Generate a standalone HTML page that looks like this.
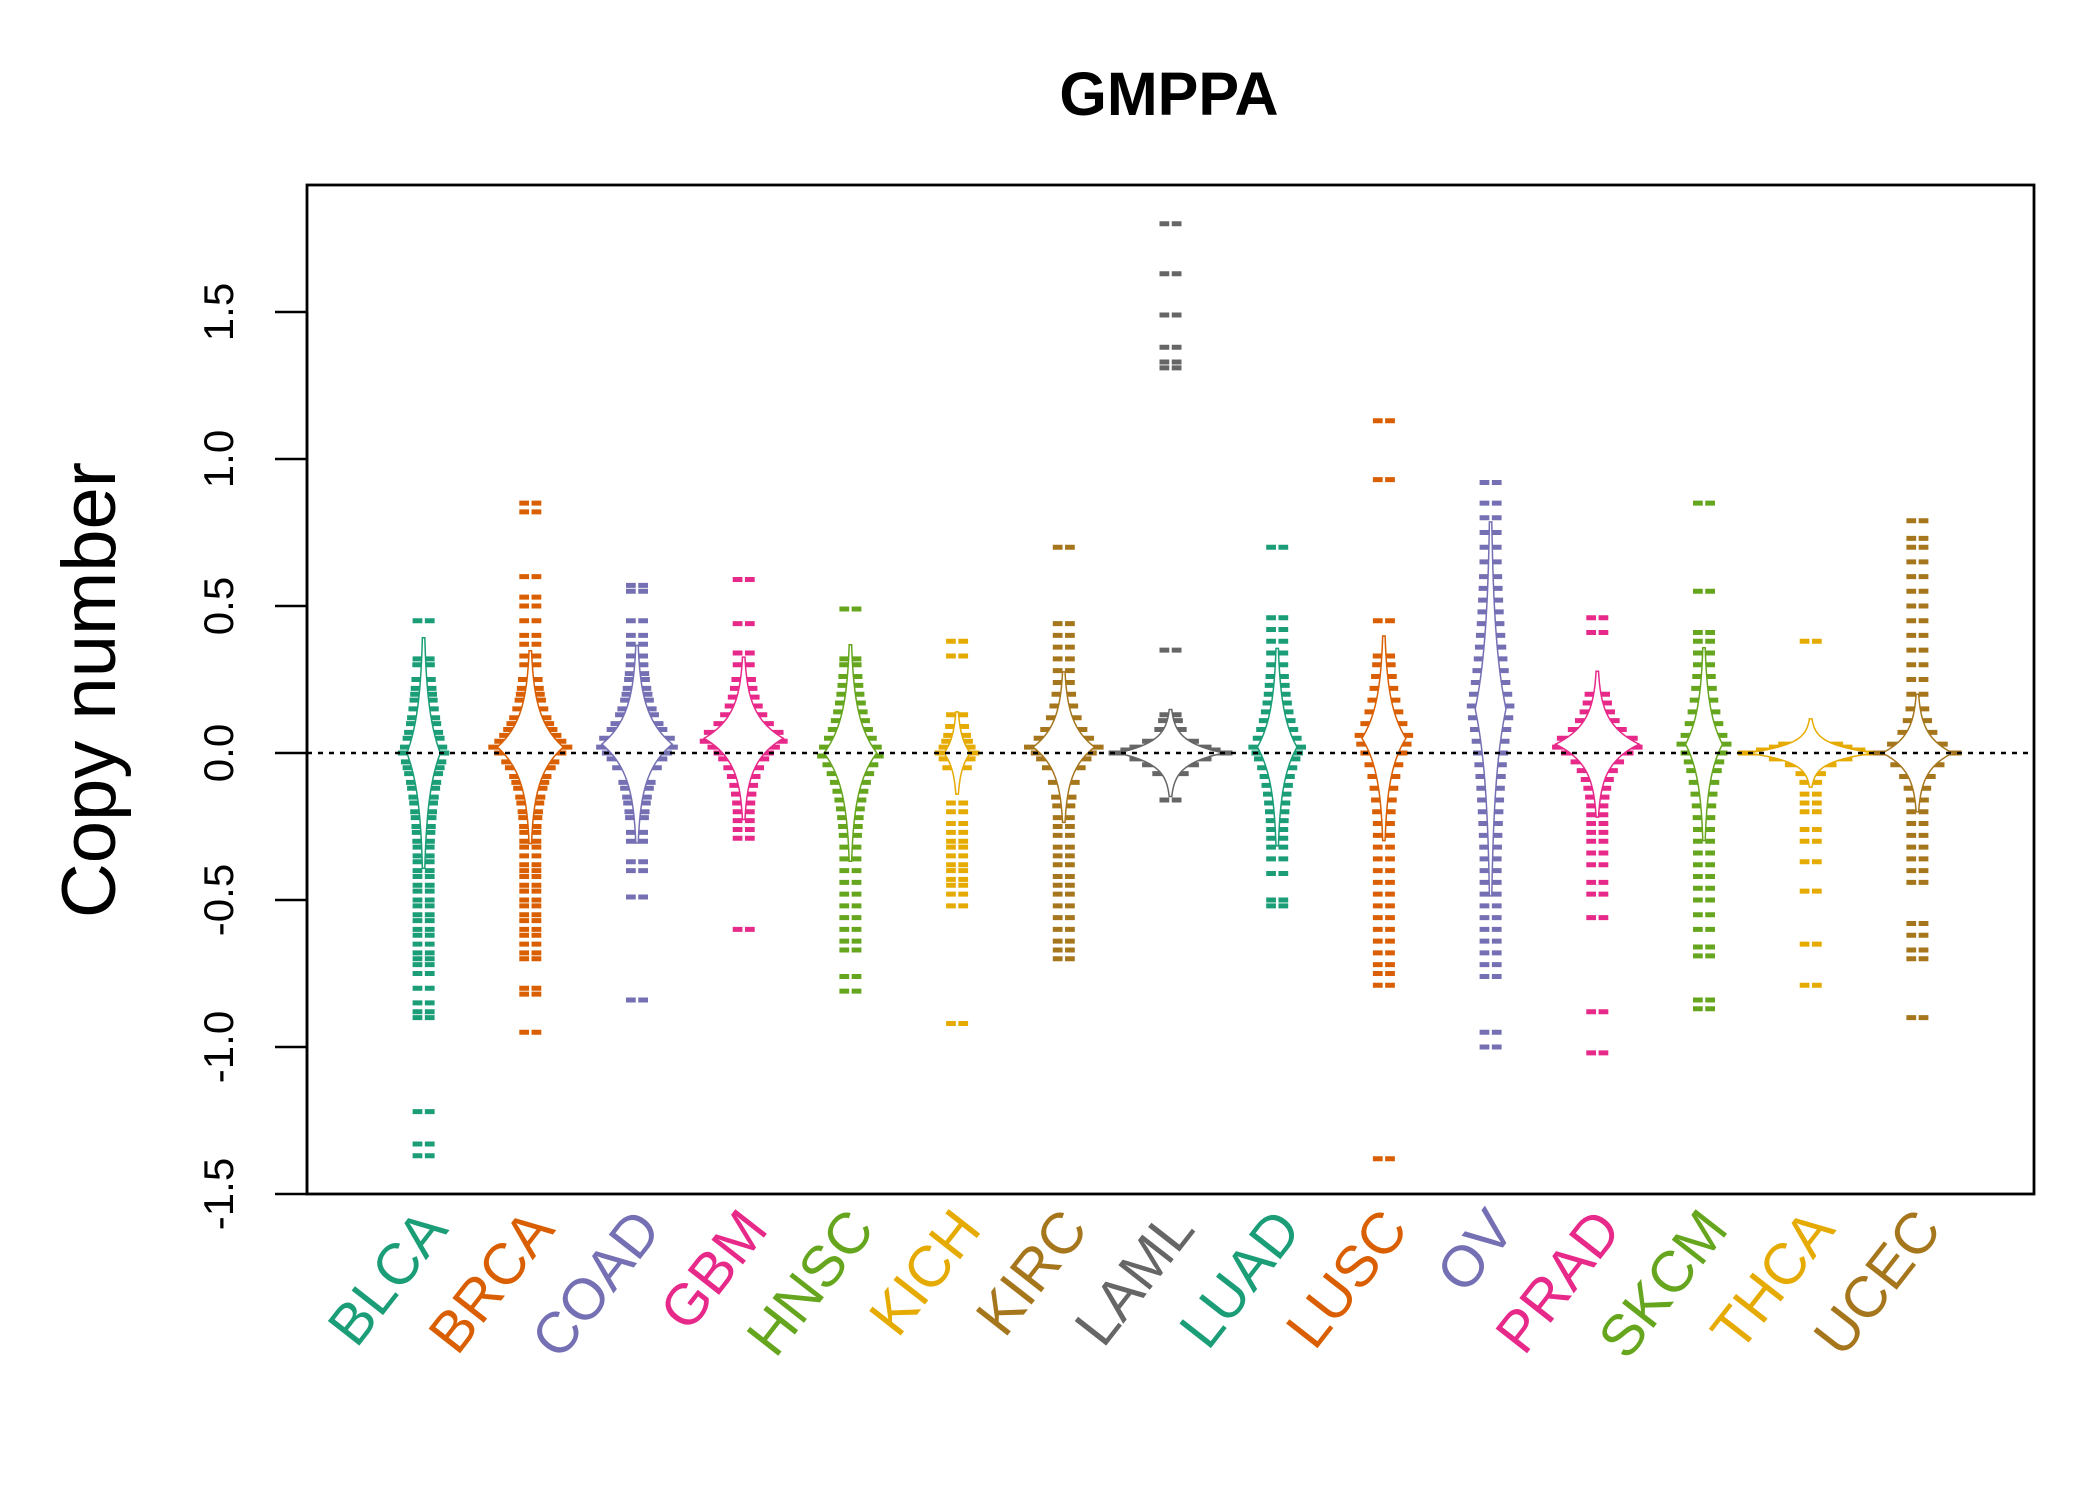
<!DOCTYPE html>
<html><head><meta charset="utf-8"><style>
html,body{margin:0;padding:0;background:#fff;}
svg{display:block;font-family:"Liberation Sans",sans-serif;}
</style></head><body>
<svg id="chart" width="2100" height="1500" viewBox="0 0 2100 1500" xmlns="http://www.w3.org/2000/svg">
<text x="1169" y="115" font-size="61" font-weight="bold" text-anchor="middle">GMPPA</text>
<text transform="translate(115,690) rotate(-90)" font-size="76" text-anchor="middle">Copy number</text>
<g id="beans"></g>
<line x1="307" y1="753" x2="2034" y2="753" stroke="#000" stroke-width="2.5" stroke-dasharray="5,6"/>
<rect x="307" y="185" width="1727" height="1009" fill="none" stroke="#000" stroke-width="2.8"/>
<g id="yaxis"></g>
<g id="xlabels"></g>
</svg>
<script>
const categories = ["BLCA","BRCA","COAD","GBM","HNSC","KICH","KIRC","LAML","LUAD","LUSC","OV","PRAD","SKCM","THCA","UCEC"];
const colors = ["#1B9E77","#D95F02","#7570B3","#E7298A","#66A61E","#E6AB02","#A6761D","#666666","#1B9E77","#D95F02","#7570B3","#E7298A","#66A61E","#E6AB02","#A6761D"];
const yTicks = [-1.5,-1.0,-0.5,0.0,0.5,1.0,1.5];
const yTickLabels = ["-1.5","-1.0","-0.5","0.0","0.5","1.0","1.5"];
const peakRel = [0.38,0.75,0.8,0.9,0.6,0.3,0.7,1.2,0.45,0.5,0.35,0.95,0.42,1.45,0.8];
const beanSpread = [0.15,0.1,0.1,0.08,0.12,0.06,0.08,0.04,0.12,0.12,0.25,0.07,0.12,0.03,0.06];
const beanCenter = [0.0,0.02,0.03,0.05,0.0,0.0,0.02,0.0,0.02,0.05,0.15,0.03,0.03,0.0,0.0];
const vBLCA = [-1.37,-1.33,-1.22,-0.9,-0.88,-0.85,-0.8,-0.75,-0.72,-0.7,-0.68,-0.65,-0.62,-0.6,-0.57,-0.55,-0.52,-0.5,-0.47,-0.45,-0.42,-0.4,-0.37,-0.35,-0.32,-0.3,-0.27,-0.25,-0.22,-0.2,-0.17,-0.15,-0.12,-0.1,-0.07,-0.05,-0.03,0,0.02,0.05,0.07,0.1,0.12,0.15,0.18,0.2,0.22,0.25,0.3,0.32,0.45];
const vBRCA = [-0.95,-0.82,-0.8,-0.7,-0.68,-0.65,-0.62,-0.6,-0.57,-0.55,-0.52,-0.5,-0.47,-0.45,-0.42,-0.4,-0.38,-0.35,-0.32,-0.3,-0.27,-0.25,-0.22,-0.2,-0.17,-0.15,-0.12,-0.1,-0.08,-0.05,-0.03,0,0.02,0.04,0.06,0.08,0.1,0.12,0.15,0.18,0.2,0.22,0.25,0.3,0.33,0.37,0.4,0.45,0.5,0.53,0.6,0.82,0.85];
const vCOAD = [-0.84,-0.49,-0.4,-0.37,-0.3,-0.27,-0.22,-0.2,-0.17,-0.15,-0.12,-0.1,-0.05,-0.02,0,0.02,0.05,0.08,0.1,0.13,0.15,0.18,0.2,0.22,0.25,0.27,0.3,0.33,0.37,0.4,0.45,0.55,0.57];
const vGBM = [-0.6,-0.29,-0.26,-0.23,-0.2,-0.17,-0.14,-0.11,-0.08,-0.05,-0.02,0,0.02,0.04,0.07,0.1,0.13,0.16,0.19,0.22,0.25,0.3,0.34,0.44,0.59];
const vHNSC = [-0.81,-0.76,-0.67,-0.64,-0.6,-0.56,-0.52,-0.48,-0.44,-0.4,-0.36,-0.32,-0.28,-0.25,-0.22,-0.19,-0.16,-0.13,-0.1,-0.07,-0.04,-0.01,0.02,0.05,0.08,0.11,0.14,0.17,0.2,0.23,0.26,0.3,0.32,0.49];
const vKICH = [-0.92,-0.52,-0.48,-0.45,-0.43,-0.4,-0.38,-0.35,-0.32,-0.3,-0.27,-0.24,-0.2,-0.17,-0.05,-0.02,0,0.02,0.04,0.06,0.09,0.13,0.33,0.38];
const vKIRC = [-0.7,-0.67,-0.64,-0.6,-0.56,-0.52,-0.48,-0.45,-0.42,-0.38,-0.35,-0.32,-0.28,-0.25,-0.22,-0.18,-0.15,-0.1,-0.05,-0.02,0,0.02,0.05,0.08,0.12,0.16,0.2,0.24,0.28,0.32,0.36,0.4,0.44,0.7];
const vLAML = [-0.16,-0.07,-0.04,-0.02,0,0,0.01,0.02,0.04,0.08,0.11,0.13,0.35,1.31,1.33,1.38,1.49,1.63,1.8];
const vLUAD = [-0.52,-0.5,-0.41,-0.36,-0.32,-0.29,-0.26,-0.23,-0.2,-0.17,-0.14,-0.11,-0.08,-0.05,-0.02,0,0.02,0.05,0.08,0.11,0.14,0.17,0.2,0.23,0.26,0.3,0.34,0.38,0.42,0.46,0.7];
const vLUSC = [-1.38,-0.79,-0.75,-0.72,-0.68,-0.64,-0.6,-0.56,-0.52,-0.48,-0.44,-0.4,-0.36,-0.32,-0.28,-0.24,-0.2,-0.16,-0.12,-0.08,-0.04,0,0.03,0.06,0.1,0.14,0.18,0.22,0.26,0.3,0.33,0.45,0.93,1.13];
const vOV = [-1.0,-0.95,-0.76,-0.72,-0.68,-0.64,-0.6,-0.56,-0.52,-0.48,-0.44,-0.4,-0.36,-0.32,-0.28,-0.24,-0.2,-0.16,-0.12,-0.08,-0.04,0,0.04,0.08,0.12,0.16,0.2,0.24,0.28,0.32,0.36,0.4,0.44,0.48,0.52,0.56,0.6,0.65,0.7,0.75,0.8,0.85,0.92];
const vPRAD = [-1.02,-0.88,-0.56,-0.48,-0.44,-0.38,-0.34,-0.3,-0.27,-0.24,-0.21,-0.18,-0.15,-0.12,-0.09,-0.06,-0.03,0,0.02,0.05,0.08,0.11,0.14,0.17,0.2,0.41,0.46];
const vSKCM = [-0.87,-0.84,-0.69,-0.66,-0.6,-0.55,-0.5,-0.46,-0.42,-0.38,-0.34,-0.3,-0.26,-0.22,-0.18,-0.14,-0.1,-0.06,-0.03,0,0.03,0.06,0.1,0.14,0.18,0.22,0.26,0.3,0.34,0.38,0.41,0.55,0.85];
const vTHCA = [-0.79,-0.65,-0.47,-0.37,-0.3,-0.26,-0.2,-0.17,-0.14,-0.1,-0.07,-0.04,-0.02,0,0,0.01,0.02,0.03,0.38];
const vUCEC = [-0.9,-0.7,-0.67,-0.62,-0.58,-0.44,-0.4,-0.36,-0.32,-0.28,-0.24,-0.2,-0.16,-0.12,-0.08,-0.04,0,0.03,0.07,0.11,0.15,0.2,0.25,0.3,0.35,0.4,0.45,0.5,0.55,0.6,0.65,0.7,0.73,0.79];
const seriesValues = [vBLCA,vBRCA,vCOAD,vGBM,vHNSC,vKICH,vKIRC,vLAML,vLUAD,vLUSC,vOV,vPRAD,vSKCM,vTHCA,vUCEC];

const NS = "http://www.w3.org/2000/svg";
const yScale = v => 753 - 294 * v;
const xScale = i => 423.6 + 106.7 * i;
const MAXW = 44;
function mk(tag, attrs, parent){const e=document.createElementNS(NS,tag);for(const k in attrs)e.setAttribute(k,attrs[k]);parent.appendChild(e);return e;}

const beans = document.getElementById("beans");
seriesValues.forEach((vals, i) => {
  const cx = xScale(i), col = colors[i];
  const g = mk("g", {}, beans);
  
  
  const c = beanCenter[i];
  const lo = Math.min(...vals), hi = Math.max(...vals);
  const half = y => peakRel[i] * MAXW * Math.exp(-Math.abs(y - c) / beanSpread[i]);
  vals.forEach(v => {
    const w = Math.max(11, half(v) + 9);
    const ln = mk("line", {x1: cx - w, x2: cx + w, y1: yScale(v), y2: yScale(v), stroke: col, "stroke-width": 5}, g);
    
    
  });
  const gap = mk("line", {x1: cx, x2: cx, y1: yScale(hi) - 4, y2: yScale(lo) + 4, stroke: "#fff", "stroke-width": 2.5}, g);
  
  
  const ys = []; for (let y = c - 8 * beanSpread[i]; y <= c + 8 * beanSpread[i] + 1e-9; y += 0.004) if (y >= lo && y <= hi && half(y) > 1.2) ys.push(y);
  let pts = ys.map(y => (cx + half(y)) + "," + yScale(y));
  pts = pts.concat(ys.slice().reverse().map(y => (cx - half(y)) + "," + yScale(y)));
  const poly = mk("polygon", {points: pts.join(" "), fill: "#fff", stroke: col, "stroke-width": 1.5}, g);
  
  
});

const yaxis = document.getElementById("yaxis");
yTicks.forEach((t, k) => {
  const y = yScale(t);
  const tk = mk("line", {x1: 275, x2: 307, y1: y, y2: y, stroke: "#000", "stroke-width": 2.5}, yaxis);
  
  
  const tx = mk("text", {transform: `translate(233,${y}) rotate(-90)`, "font-size": 42, "text-anchor": "middle"}, yaxis);
  tx.textContent = yTickLabels[k];
  
  
});
const yl = mk("line", {x1: 307, x2: 307, y1: yScale(-1.5), y2: yScale(1.5), stroke: "#000", "stroke-width": 2.5}, yaxis);



const xl = document.getElementById("xlabels");
categories.forEach((c, i) => {
  const t = mk("text", {transform: `translate(${xScale(i) + 26},1230) rotate(-52)`, "font-size": 58, "text-anchor": "end", fill: colors[i]}, xl);
  t.textContent = c;
  
  
});
</script>
</body></html>
